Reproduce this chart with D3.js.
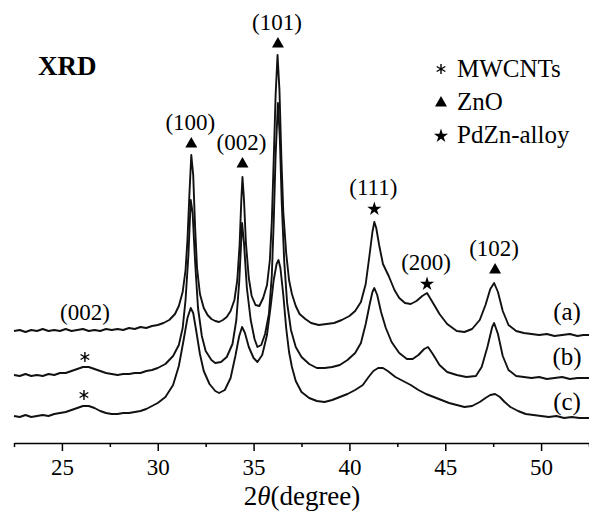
<!DOCTYPE html>
<meta charset="utf-8">
<style>
body { margin: 0; background: #fff; }
.curve { fill: none; stroke: #111; stroke-width: 1.9px; stroke-linejoin: round; }
.axis path, .axis line { stroke: #000; stroke-width: 1.5px; }
</style>
<svg width="589" height="513" font-family="'Liberation Serif', 'Times New Roman', Times, serif"></svg>
<script src="https://cdn.jsdelivr.net/npm/d3@7/dist/d3.min.js"></script>
<script>

// 2theta (degree) and intensity (a.u., curves already stacked as in the figure)
var curveA = [
  [22.5,112],[22.8,113],[23.1,111],[23.4,113],[23.7,112],[24.0,114],[24.3,112],[24.6,113],[24.9,112],[25.2,114],
  [25.5,112],[25.8,113],[26.1,114],[26.4,112],[26.7,113],[27.0,112],[27.3,114],[27.6,113],[27.9,114],[28.2,113],
  [28.5,115],[28.8,114],[29.1,116],[29.4,115],[29.7,117],[30.0,118],[30.3,120],[30.6,123],[30.9,129],[31.1,137],
  [31.3,151],[31.45,173],[31.55,203],[31.65,248],[31.75,288],[31.85,268],[31.95,215],[32.05,175],[32.2,149],[32.4,135],
  [32.6,128],[32.8,124],[33.0,122],[33.2,121],[33.4,123],[33.6,126],[33.8,132],[34.0,143],[34.15,163],[34.27,198],
  [34.36,243],[34.42,266],[34.5,243],[34.6,200],[34.75,165],[34.9,147],[35.1,138],[35.3,137],[35.5,145],[35.7,158],
  [35.85,183],[35.95,221],[36.05,283],[36.15,348],[36.25,388],[36.35,353],[36.45,285],[36.55,231],[36.7,190],[36.85,163],
  [37.0,149],[37.2,137],[37.4,129],[37.7,124],[38.0,120],[38.4,118],[38.8,119],[39.2,120],[39.6,123],[40.0,127],
  [40.3,132],[40.6,141],[40.85,159],[41.05,188],[41.2,211],[41.3,221],[41.4,215],[41.55,198],[41.75,179],[42.05,167],
  [42.35,153],[42.6,145],[42.9,140],[43.2,139],[43.5,142],[43.8,147],[44.05,150],[44.3,142],[44.7,129],[45.1,119],
  [45.6,112],[46.0,111],[46.4,114],[46.8,123],[47.1,138],[47.35,154],[47.55,160],[47.75,151],[48.0,132],[48.3,118],
  [48.7,112],[49.1,110],[49.5,109],[49.9,108],[50.3,109],[50.7,107],[51.1,108],[51.5,109],[51.9,107],[52.2,108],[52.5,108]
];

var curveB = [
  [22.5,68],[22.8,67],[23.1,69],[23.4,67],[23.7,68],[24.0,67],[24.3,69],[24.6,68],[24.9,70],[25.2,70],
  [25.5,72],[25.8,74],[26.1,76],[26.4,76],[26.7,74],[27.0,72],[27.3,70],[27.6,69],[27.9,68],[28.2,69],
  [28.5,69],[28.8,70],[29.1,70],[29.4,72],[29.7,73],[30.0,75],[30.4,79],[30.8,87],[31.1,98],[31.3,115],
  [31.45,143],[31.6,188],[31.72,243],[31.82,230],[31.95,181],[32.1,135],[32.3,107],[32.5,92],[32.8,83],[33.0,80],
  [33.3,81],[33.6,86],[33.9,99],[34.1,123],[34.25,161],[34.4,220],[34.5,200],[34.65,155],[34.85,123],[35.05,104],
  [35.2,96],[35.4,98],[35.6,109],[35.8,129],[35.95,167],[36.05,221],[36.15,288],[36.27,340],[36.37,305],[36.47,240],
  [36.6,181],[36.75,140],[36.95,113],[37.2,96],[37.5,86],[37.9,79],[38.3,75],[38.7,75],[39.1,76],[39.5,78],
  [39.9,83],[40.3,90],[40.6,100],[40.85,119],[41.05,138],[41.2,151],[41.3,155],[41.45,148],[41.65,131],[41.9,115],
  [42.2,101],[42.6,90],[43.0,84],[43.3,84],[43.6,88],[43.9,94],[44.1,96],[44.35,89],[44.7,78],[45.1,71],
  [45.6,68],[46.1,66],[46.6,67],[46.9,76],[47.2,96],[47.45,116],[47.55,120],[47.75,109],[48.0,87],[48.3,73],
  [48.7,67],[49.1,66],[49.5,65],[49.9,66],[50.3,64],[50.7,65],[51.1,66],[51.5,64],[51.9,65],[52.2,65],[52.5,65]
];

var curveC = [
  [22.5,27],[22.8,26],[23.1,28],[23.4,26],[23.7,27],[24.0,28],[24.3,27],[24.6,29],[24.9,30],[25.2,31],
  [25.5,33],[25.8,35],[26.1,37],[26.4,37],[26.7,35],[27.0,32],[27.3,30],[27.6,29],[27.9,29],[28.2,30],
  [28.5,30],[28.8,31],[29.1,32],[29.4,34],[29.7,37],[30.0,40],[30.4,46],[30.8,58],[31.1,77],[31.35,103],
  [31.55,125],[31.72,135],[31.85,130],[32.0,113],[32.2,89],[32.4,72],[32.7,59],[33.0,52],[33.2,50],[33.5,53],
  [33.8,65],[34.05,87],[34.25,107],[34.4,116],[34.55,110],[34.75,96],[35.0,85],[35.2,81],[35.45,88],[35.7,108],
  [35.9,138],[36.05,163],[36.2,179],[36.3,183],[36.4,175],[36.55,148],[36.7,115],[36.85,91],[37.0,76],[37.2,62],
  [37.5,51],[37.9,45],[38.3,42],[38.7,41],[39.1,43],[39.5,46],[39.9,49],[40.3,53],[40.7,58],[41.0,66],
  [41.25,72],[41.5,75],[41.75,75],[42.0,72],[42.4,66],[42.8,62],[43.2,58],[43.6,53],[44.0,49],[44.4,46],
  [44.8,43],[45.2,40],[45.6,38],[46.0,36],[46.4,37],[46.8,41],[47.1,45],[47.35,48],[47.6,49],[47.85,46],
  [48.1,41],[48.4,36],[48.8,32],[49.2,29],[49.6,28],[50.0,27],[50.4,26],[50.8,27],[51.2,25],[51.6,26],[52.0,25],[52.5,25]
];

var majorTicks = [25, 30, 35, 40, 45, 50];
var minorTicks = [22.5, 27.5, 32.5, 37.5, 42.5, 47.5, 52.5];

// peak marks: label, 2theta, intensity level of the mark, symbol
var peakMarks = [
  {label: "(100)", pos: 31.75, level: 300, sym: "tri"},
  {label: "(002)", pos: 34.42, level: 280, sym: "tri"},
  {label: "(101)", pos: 36.27, level: 400, sym: "tri"},
  {label: "(111)", pos: 41.3,  level: 235, sym: "star"},
  {label: "(200)", pos: 44.05, level: 160, sym: "star"},
  {label: "(102)", pos: 47.6,  level: 174, sym: "tri"}
];
var cntMarks = [[26.2, 86], [26.15, 48]];
var cntLabel = {label: "(002)", pos: 26.2, level: 123};
var curveNames = ["(a)", "(b)", "(c)"];
var curveNameLevels = [123, 78, 33];
var legendItems = [["*", "MWCNTs"], ["tri", "ZnO"], ["star", "PdZn-alloy"]];

var svg = d3.select("svg"),
    width = +svg.attr("width"),
    height = +svg.attr("height");

var x = d3.scaleLinear().domain([22.5, 52.5]).range([14, 589]);
var y = d3.scaleLinear().domain([0, 443]).range([443, 0]);

var line = d3.line()
    .x(function(d) { return x(d[0]); })
    .y(function(d) { return y(d[1]); });

svg.selectAll("path.curve")
    .data([curveA, curveB, curveC])
    .enter().append("path")
    .attr("class", "curve")
    .attr("d", line);

// x axis, ticks pointing down
var axisMajor = d3.axisBottom(x)
    .tickValues(majorTicks)
    .tickSize(8)
    .tickSizeOuter(0)
    .tickPadding(8)
    .tickFormat(d3.format("d"));

var gx = svg.append("g")
    .attr("class", "axis")
    .attr("transform", "translate(0," + y(0) + ")")
    .call(axisMajor)
    .attr("font-family", null);
gx.selectAll("text").attr("font-size", 23);

svg.append("g")
    .attr("class", "axis")
    .attr("transform", "translate(0," + y(0) + ")")
    .call(d3.axisBottom(x).tickValues(minorTicks).tickSize(4).tickFormat(""))
    .select(".domain").remove();

var title = svg.append("text")
    .attr("x", 302)
    .attr("y", 505)
    .attr("text-anchor", "middle")
    .attr("font-size", 27);
title.append("tspan").text("2");
title.append("tspan").attr("font-style", "italic").text("θ");
title.append("tspan").text("(degree)");

svg.append("text")
    .attr("x", 38)
    .attr("y", 75)
    .attr("font-size", 27)
    .attr("font-weight", "bold")
    .text("XRD");

var tri = d3.symbol().type(d3.symbolTriangle).size(62);
var star = d3.symbol().type(d3.symbolStar).size(62);
var aster = d3.symbol().type(d3.symbolAsterisk).size(70);

function drawSymbol(g, sym, cx, cy) {
  if (sym == "tri") {
    g.append("path").attr("d", tri).attr("fill", "#000")
      .attr("transform", "translate(" + cx + "," + (cy + 1) + ")");
  } else if (sym == "star") {
    g.append("path").attr("d", star).attr("fill", "#000")
      .attr("transform", "translate(" + cx + "," + (cy + 1) + ")");
  } else {
    g.append("path").attr("d", aster).attr("fill", "none")
      .attr("stroke", "#000").attr("stroke-width", 1.4)
      .attr("transform", "translate(" + cx + "," + cy + ")");
  }
}

var marks = svg.append("g");
peakMarks.forEach(function(p) {
  drawSymbol(marks, p.sym, x(p.pos), y(p.level));
  marks.append("text")
    .attr("x", x(p.pos) - 1)
    .attr("y", y(p.level) - 13)
    .attr("text-anchor", "middle")
    .attr("font-size", 23)
    .text(p.label);
});

cntMarks.forEach(function(m) {
  drawSymbol(marks, "*", x(m[0]), y(m[1]));
});
marks.append("text")
  .attr("x", x(cntLabel.pos))
  .attr("y", y(cntLabel.level))
  .attr("text-anchor", "middle")
  .attr("font-size", 23)
  .text(cntLabel.label);

curveNames.forEach(function(n, i) {
  marks.append("text")
    .attr("x", 567)
    .attr("y", y(curveNameLevels[i]))
    .attr("text-anchor", "middle")
    .attr("font-size", 25)
    .text(n);
});

var legend = svg.append("g");
legendItems.forEach(function(item, i) {
  var ly = 77 + i * 33;
  drawSymbol(legend, item[0], 441, ly - 8);
  legend.append("text")
    .attr("x", 457)
    .attr("y", ly)
    .attr("font-size", 25)
    .text(item[1]);
});

</script>
